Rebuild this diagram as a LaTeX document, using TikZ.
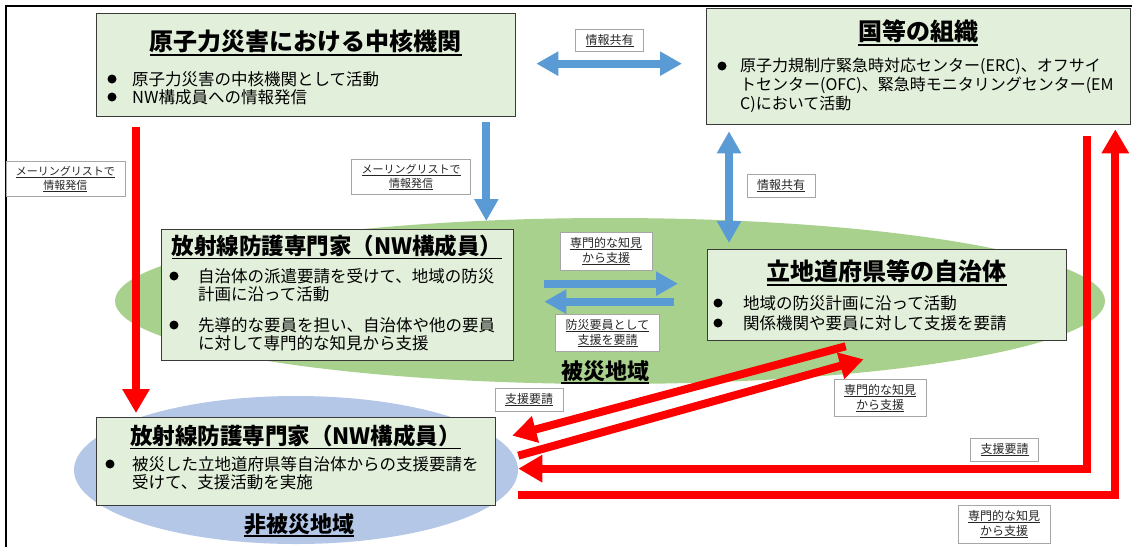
\documentclass[tikz,border=0pt]{standalone}
\usepackage{fontspec}
\setmainfont{Noto Sans CJK JP}
\usetikzlibrary{arrows.meta}
\definecolor{boxfill}{HTML}{E2EFDA}
\definecolor{boxline}{HTML}{3A3A3A}
\definecolor{hitgreen}{HTML}{A9D18E}
\definecolor{safeblue}{HTML}{B4C7E7}
\definecolor{infoblue}{HTML}{5B9BD5}
\definecolor{alertred}{HTML}{FF0000}
\definecolor{tagline}{HTML}{A6A6A6}
% underline that keeps clear of the CJK glyphs
\newsavebox{\ulbox}
\newcommand{\undl}[1]{\sbox{\ulbox}{#1}\rlap{\rule[-0.2em]{\wd\ulbox}{0.065em}}\usebox{\ulbox}}
\tikzset{
  box/.style={draw=boxline, fill=boxfill, line width=1.3pt, anchor=north west, inner sep=0pt},
  ttl/.style={font=\fontsize{24}{28}\selectfont\bfseries, inner sep=0pt},
  itm/.style={font=\fontsize{16.5}{18}\selectfont, align=left, inner sep=0pt},
  dot/.style={circle, fill=black, inner sep=0pt, minimum size=9pt},
  tag/.style={draw=tagline, fill=white, line width=0.8pt, font=\fontsize{12}{15}\selectfont,
    align=center, inner xsep=10pt, inner ysep=5pt, text=black!85},
  zone/.style={font=\fontsize{22}{26}\selectfont\bfseries, inner sep=0pt},
  bluearr/.style={draw=infoblue, line width=8pt, -{Triangle[length=22pt,width=23pt]}},
  bluedbl/.style={draw=infoblue, line width=8pt,
    {Triangle[length=22pt,width=23pt]}-{Triangle[length=22pt,width=23pt]}},
  redarr/.style={draw=alertred, line width=8pt, line join=miter, -{Triangle[length=24pt,width=26pt]}},
}

\begin{document}
\begin{tikzpicture}[x=1pt,y=1pt]
  \useasboundingbox (0,0) rectangle (1132,-547);
  \fill[white] (0,0) rectangle (1132,-547);

  % areas
  \fill[hitgreen] (610,-301) ellipse [x radius=495pt, y radius=83pt];
  \fill[safeblue] (296,-470) ellipse [x radius=222pt, y radius=74pt];
  \draw[line width=1.6pt] (6,-547) -- (6,-6) -- (1132,-6);

  % core organisation
  \node[box, minimum width=419pt, minimum height=103pt] (core) at (96,-13) {};
  \node[ttl] at (305.5,-43) {\undl{原子力災害における中核機関}};
  \node[dot] at (112,-79) {};
  \node[itm, anchor=west] at (132,-79) {原子力災害の中核機関として活動};
  \node[dot] at (112,-97) {};
  \node[itm, anchor=west] at (132,-97) {NW構成員への情報発信};

  % national bodies
  \node[box, minimum width=424pt, minimum height=116pt] (govt) at (706,-8) {};
  \node[ttl] at (918,-33) {\undl{国等の組織}};
  \node[dot] at (722,-66) {};
  \node[itm, font=\fontsize{16}{19}\selectfont, anchor=north west] at (740,-58) {原子力規制庁緊急時対応センター(ERC)、オフサイ\\トセンター(OFC)、緊急時モニタリングセンター(EM\\C)において活動};

  % experts inside the affected area
  \node[box, minimum width=352pt, minimum height=131pt] (expA) at (161,-229) {};
  \node[ttl, font=\fontsize{22.5}{26}\selectfont\bfseries] at (337,-247) {\undl{放射線防護専門家（NW構成員）}};
  \node[dot] at (174,-276) {};
  \node[itm, anchor=north west] at (198,-268) {自治体の派遣要請を受けて、地域の防災\\計画に沿って活動};
  \node[dot] at (174,-325) {};
  \node[itm, anchor=north west] at (198,-317) {先導的な要員を担い、自治体や他の要員\\に対して専門的な知見から支援};

  % local government
  \node[box, minimum width=359pt, minimum height=91pt] (local) at (707,-249) {};
  \node[ttl] at (886.5,-273) {\undl{立地道府県等の自治体}};
  \node[dot] at (718,-303) {};
  \node[itm, anchor=west] at (743,-303) {地域の防災計画に沿って活動};
  \node[dot] at (718,-323) {};
  \node[itm, anchor=west] at (743,-323) {関係機関や要員に対して支援を要請};

  % experts outside the affected area
  \node[box, minimum width=399pt, minimum height=88pt] (expB) at (96,-417) {};
  \node[ttl, font=\fontsize{22.5}{26}\selectfont\bfseries] at (295.5,-437) {\undl{放射線防護専門家（NW構成員）}};
  \node[dot] at (110,-464) {};
  \node[itm, anchor=north west] at (132,-456) {被災した立地道府県等自治体からの支援要請を\\受けて、支援活動を実施};

  \node[zone] (hitname) at (605,-372) {\undl{被災地域}};
  \node[zone] (safename) at (299,-525) {\undl{非被災地域}};

  % blue: information flow
  \draw[bluearr] ([xshift=-30pt,yshift=-5pt]core.south east) -- ([xshift=-28pt,yshift=8pt]expA.north east);
  \draw[bluedbl] ([xshift=20pt,yshift=1.5pt]core.east) -- ([xshift=-24pt,yshift=3pt]govt.west);
  \draw[bluedbl] ([xshift=23pt,yshift=-6pt]govt.south west) -- ([xshift=22pt,yshift=6pt]local.north west);
  \draw[bluearr] ([xshift=30pt,yshift=11.5pt]expA.east) -- ([xshift=-29pt,yshift=11.5pt]local.west);
  \draw[bluearr] ([xshift=-33pt,yshift=-6.5pt]local.west) -- ([xshift=30pt,yshift=-6.5pt]expA.east);

  % red: support requests
  \draw[redarr] ([xshift=40pt,yshift=-10pt]core.south west) -- ([xshift=40pt,yshift=4pt]expB.north west);
  \draw[redarr] ([xshift=-41.5pt,yshift=-5pt]local.south) -- ([xshift=16pt,yshift=26pt]expB.east);
  \draw[redarr] ([xshift=22pt,yshift=6pt]expB.east) -- ([xshift=-23.5pt,yshift=-18pt]local.south);
  \coordinate (reqTop) at ([xshift=-44pt,yshift=-11pt]govt.south east);
  \coordinate (reqEnd) at ([xshift=22pt,yshift=-7pt]expB.east);
  \draw[redarr] (reqTop) -- (reqTop |- reqEnd) -- (reqEnd);
  \coordinate (aidStart) at ([xshift=22pt,yshift=-33pt]expB.east);
  \coordinate (aidTop) at ([xshift=-16pt,yshift=-4pt]govt.south east);
  \draw[redarr] (aidStart) -- (aidTop |- aidStart) -- (aidTop);

  % tags
  \node[tag, font=\fontsize{11}{14}\selectfont] (t1) at (65.5,-179) {\undl{メーリングリストで}\\\undl{情報発信}};
  \node[tag, font=\fontsize{11}{14}\selectfont] (t2) at (411,-177) {\undl{メーリングリストで}\\\undl{情報発信}};
  \node[tag] (t3) at (609.5,-40.5) {\undl{情報共有}};
  \node[tag] (t4) at (781,-186) {\undl{情報共有}};
  \node[tag] (t5) at (606,-251.5) {\undl{専門的な知見}\\\undl{から支援}};
  \node[tag] (t6) at (607.5,-333) {\undl{防災要員として}\\\undl{支援を要請}};
  \node[tag] (t7) at (529,-400) {\undl{支援要請}};
  \node[tag] (t8) at (880,-398) {\undl{専門的な知見}\\\undl{から支援}};
  \node[tag] (t9) at (1004.5,-450) {\undl{支援要請}};
  \node[tag] (t10) at (1004,-524.5) {\undl{専門的な知見}\\\undl{から支援}};
\end{tikzpicture}
\end{document}
